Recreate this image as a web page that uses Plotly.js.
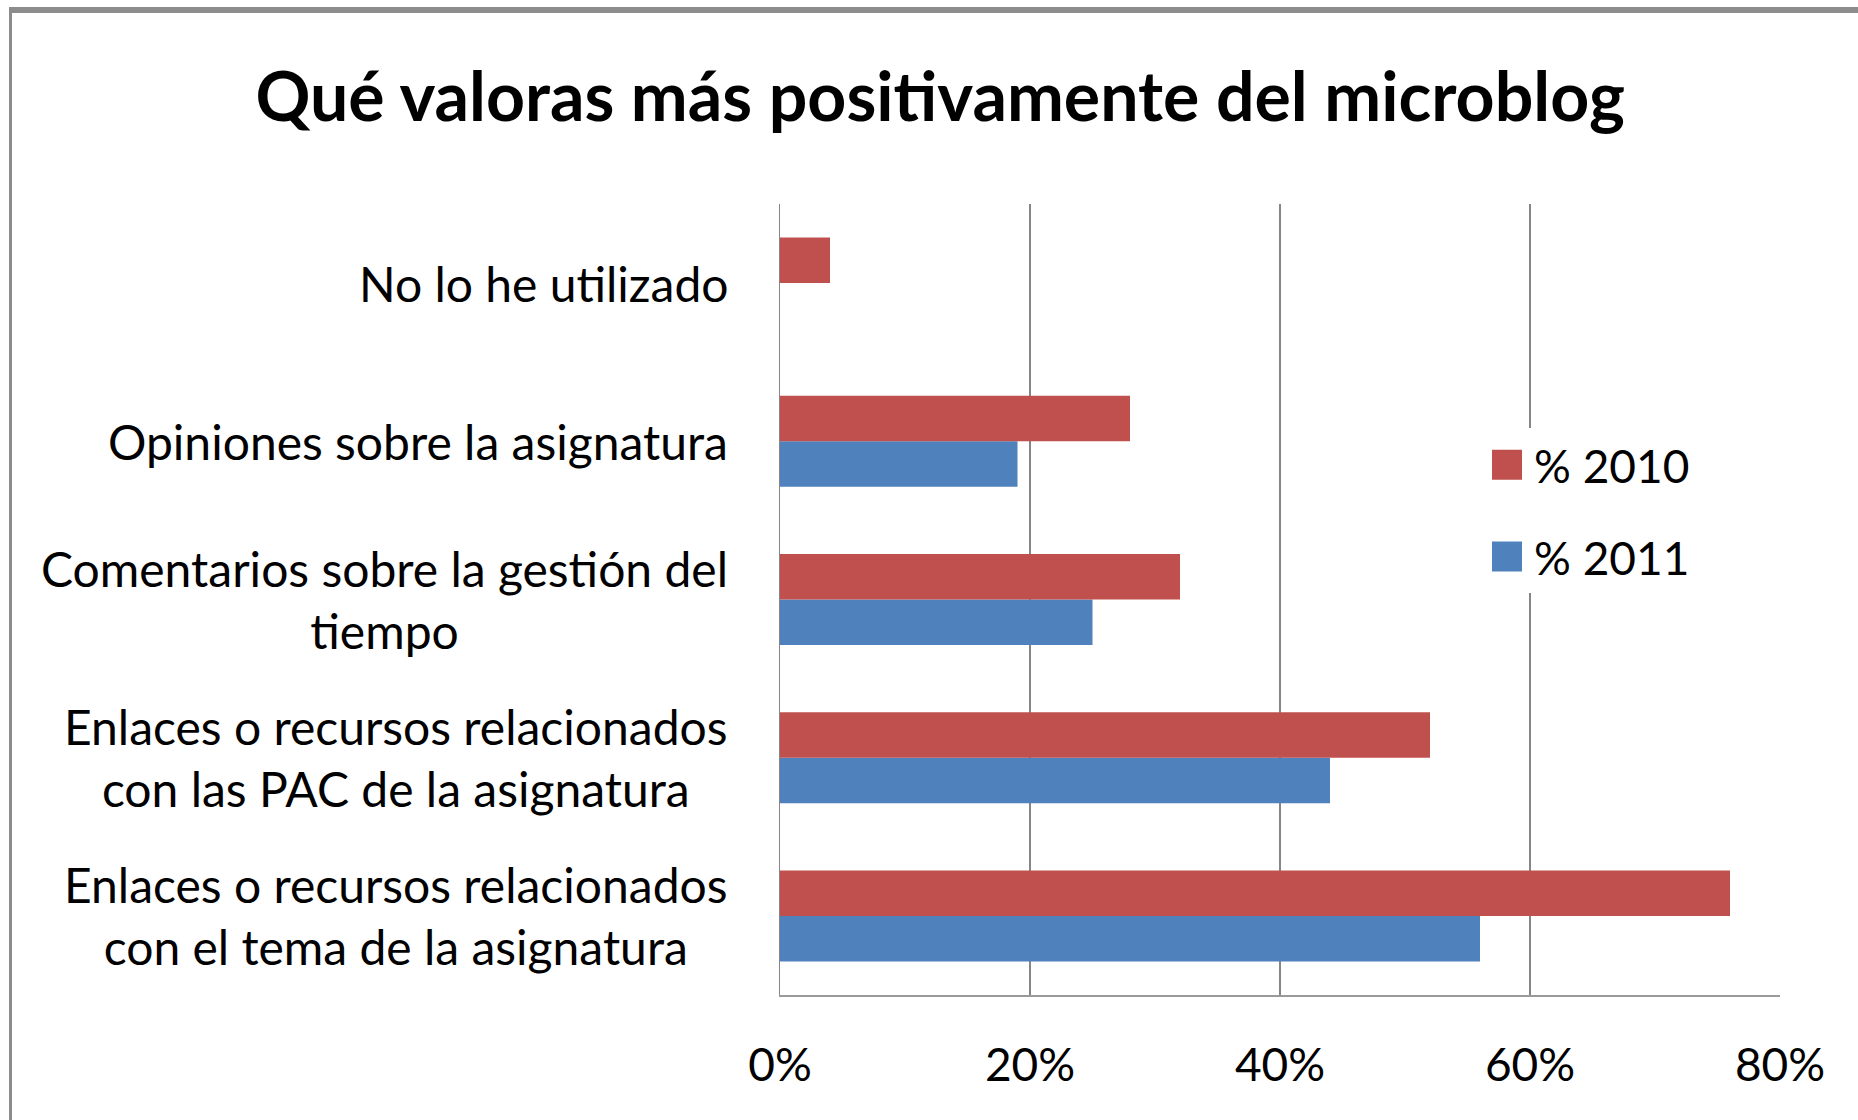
<!DOCTYPE html>
<html>
<head>
<meta charset="utf-8">
<script src="https://cdn.plot.ly/plotly-3.0.1.min.js"></script>
<style>
html,body{margin:0;padding:0;background:#fff;}
#wrap{position:relative;width:1858px;height:1120px;overflow:hidden;}
#chart{position:absolute;left:0;top:0;width:1858px;height:1120px;}
#frame{position:absolute;left:9px;top:7px;width:1900px;height:1200px;border-top:6px solid #8c8c8c;border-left:3px solid #8c8c8c;pointer-events:none;}
</style>
</head>
<body>
<div id="wrap"><div id="chart"></div><div id="frame"></div></div>
<script>
// Categories, bottom to top
const categories = [
  "Enlaces o recursos relacionados<br>con el tema de la asignatura",
  "Enlaces o recursos relacionados<br>con las PAC de la asignatura",
  "Comentarios sobre la gestión del<br>tiempo",
  "Opiniones sobre la asignatura",
  "No lo he utilizado"
];
const values2010 = [76, 52, 32, 28, 4];
const values2011 = [56, 44, 25, 19, null];
const seriesNames = ["% 2010", "% 2011"];
const xTicks = [0, 20, 40, 60, 80];
const xTickLabels = ["0%", "20%", "40%", "60%", "80%"];

const FONT = 'Lato, "Open Sans", sans-serif';

const traces = [
  {type:'bar', orientation:'h', name:seriesNames[1], y:categories, x:values2011,
   marker:{color:'#4F81BD'}, legendgroup:'g2011', legendrank:2, hoverinfo:'x+y'},
  {type:'bar', orientation:'h', name:seriesNames[0], y:categories, x:values2010,
   marker:{color:'#C0504D'}, legendgroup:'g2010', legendrank:1, hoverinfo:'x+y'}
];

const annotations = categories.map(c => ({
  xref:'paper', yref:'y', x:-0.05, y:c, text:c, showarrow:false,
  xanchor:'right', yanchor:'middle', align:'center',
  font:{family:FONT, size:48, color:'#000'}
}));

const layout = {
  width:1858, height:1120,
  margin:{l:780, r:78, t:204, b:125, pad:0},
  paper_bgcolor:'#fff', plot_bgcolor:'#fff',
  title:{text:'<b>Qué valoras más positivamente del microblog</b>', x:0.506, xanchor:'center', y:0.913, yanchor:'middle',
         font:{family:FONT, size:68, color:'#000'}},
  barmode:'group', bargap:0.425, bargroupgap:0,
  xaxis:{range:[0,80], tickvals:xTicks, ticktext:xTickLabels, showgrid:true, gridcolor:'#868686', gridwidth:1.3,
         showline:true, linecolor:'#9a9a9a', linewidth:2, zeroline:false, ticks:'', ticklabelstandoff:29,
         tickfont:{family:FONT, size:46, color:'#000'}, mirror:false, fixedrange:true},
  yaxis:{type:'category', categoryorder:'array', categoryarray:categories, showticklabels:false,
         showline:true, linecolor:'#868686', linewidth:1.3, showgrid:false, ticks:'', fixedrange:true},
  legend:{x:0.700, y:0.612, xanchor:'left', yanchor:'middle', bgcolor:'#fff',
          traceorder:'grouped', tracegroupgap:29, itemwidth:44,
          font:{family:FONT, size:46, color:'#000'}},
  annotations:annotations,
  showlegend:true
};

const gd = document.getElementById('chart');
function bigSwatches(){
  gd.querySelectorAll('.legendpoints path').forEach(p => p.setAttribute('d','M15,15H-15V-15H15Z'));
}
Plotly.newPlot(gd, traces, layout, {displayModeBar:false, staticPlot:true}).then(bigSwatches);
gd.on && gd.on('plotly_afterplot', bigSwatches);
</script>
</body>
</html>
